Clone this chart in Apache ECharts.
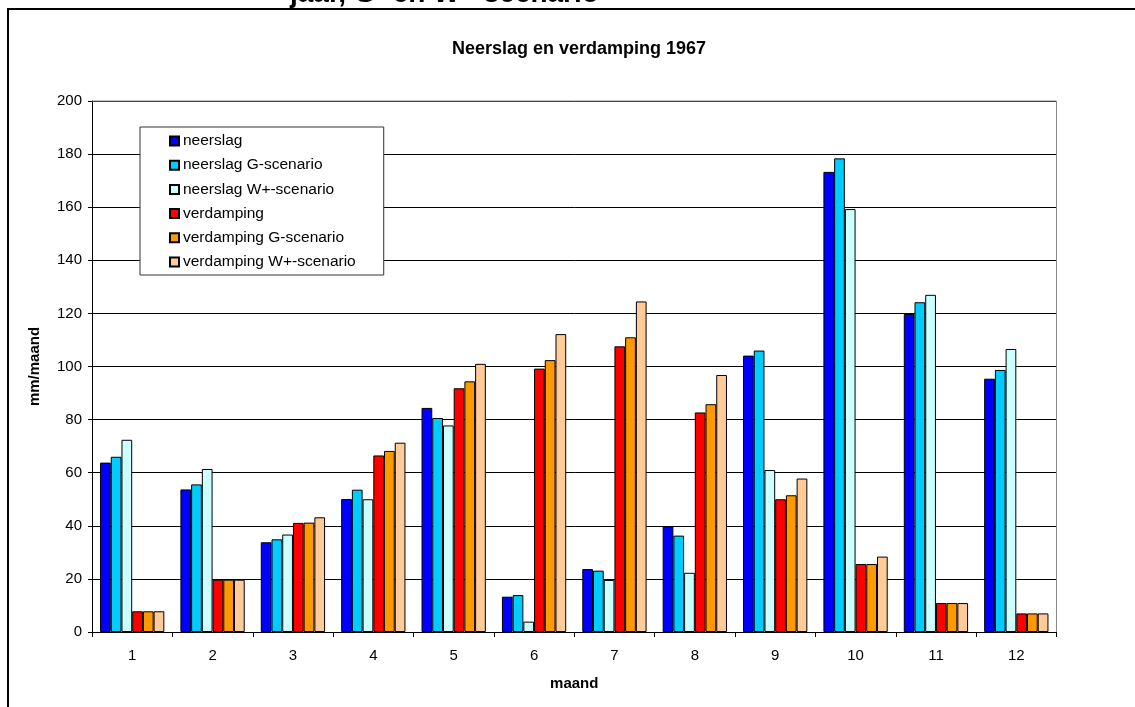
<!DOCTYPE html>
<html>
<head>
<meta charset="utf-8">
<script src="https://cdn.jsdelivr.net/npm/echarts@6/dist/echarts.min.js"></script>
<style>
html, body { margin: 0; padding: 0; background: #fff; }
#chart { width: 1135px; height: 707px; }
</style>
</head>
<body>
<div id="chart"></div>
<script>
var months = ['1', '2', '3', '4', '5', '6', '7', '8', '9', '10', '11', '12'];

var neerslag   = [63.8, 53.7, 33.8, 50.1, 84.4, 13.3, 23.7, 39.8, 104.1, 173.3, 119.8, 95.4];
var neerslagG  = [66.0, 55.6, 34.9, 53.6, 80.6, 13.9, 23.1, 36.3, 106.0, 178.4, 124.2, 98.7];
var neerslagW  = [72.4, 61.4, 36.7, 50.0, 77.8, 3.9, 19.6, 22.3, 61.0, 159.3, 127.0, 106.6];
var verdamping  = [7.8, 19.7, 41.1, 66.5, 91.8, 99.2, 107.6, 82.7, 50.0, 25.6, 10.9, 7.0];
var verdampingG = [7.8, 19.7, 41.2, 68.2, 94.4, 102.4, 111.0, 85.8, 51.5, 25.6, 10.9, 7.0];
var verdampingW = [7.8, 19.7, 43.2, 71.3, 101.0, 112.2, 124.5, 96.8, 57.8, 28.4, 10.9, 7.0];

var yTicks = [0, 20, 40, 60, 80, 100, 120, 140, 160, 180, 200];

var dom = document.getElementById('chart');
var myChart = echarts.init(dom);

function bar(name, data, color) {
	return {
		name: name,
		type: 'bar',
		data: data,
		barGap: '0%',
		barCategoryGap: '20%',
		itemStyle: { color: color, borderColor: '#000', borderWidth: 1 }
	};
}

var font = 'Liberation Sans, Arial, sans-serif';

var option = {
	animation: false,
	backgroundColor: '#fff',
	textStyle: { fontFamily: font },
	title: {
		text: 'Neerslag en verdamping 1967',
		left: 574,
		textAlign: 'center',
		top: 35,
		textStyle: { fontFamily: font, fontSize: 18, fontWeight: 'bold', color: '#000' }
	},
	graphic: [
		{
			// kop van de pagina, valt grotendeels buiten beeld
			type: 'text',
			left: 290,
			top: -20,
			style: { text: 'jaar, G- en W+ scenario', fontFamily: font, fontSize: 28, fontWeight: 'bold', fill: '#000' }
		},
		{
			type: 'polyline',
			shape: { points: [[8, 720], [8, 9], [1140, 9]] },
			style: { stroke: '#000', lineWidth: 2, fill: null }
		},
		{
			type: 'polyline',
			shape: { points: [[92, 101], [1056.5, 101], [1056.5, 632]] },
			style: { stroke: '#888', lineWidth: 1, fill: null },
			z: 50
		}
	],
	legend: {
		orient: 'vertical',
		left: 140,
		top: 127,
		padding: [6, 28, 5, 29],
		borderColor: '#333',
		borderWidth: 1,
		backgroundColor: '#fff',
		icon: 'rect',
		itemWidth: 9,
		itemHeight: 9,
		itemGap: 8.2,
		textStyle: { fontFamily: font, fontSize: 15.5, color: '#000', lineHeight: 16, padding: [0, 0, 0, -1] },
		z: 10
	},
	grid: { left: 92, right: 78.5, top: 101, bottom: 75 },
	xAxis: {
		type: 'category',
		data: months,
		name: 'maand',
		nameLocation: 'middle',
		nameGap: 44,
		nameTextStyle: { fontFamily: font, fontSize: 15, fontWeight: 'bold', color: '#000' },
		axisLine: { lineStyle: { color: '#000', width: 1 } },
		axisTick: { show: true, alignWithLabel: false, length: 5, lineStyle: { color: '#000' } },
		axisLabel: { fontFamily: font, fontSize: 15, color: '#000', margin: 16 }
	},
	yAxis: {
		type: 'value',
		min: yTicks[0],
		max: yTicks[yTicks.length - 1],
		interval: 20,
		name: 'mm/maand',
		nameLocation: 'middle',
		nameRotate: 90,
		nameGap: 50,
		nameTextStyle: { fontFamily: font, fontSize: 15, fontWeight: 'bold', color: '#000' },
		axisLine: { show: true, lineStyle: { color: '#000', width: 1 } },
		axisTick: { show: true, length: 4, lineStyle: { color: '#000' } },
		axisLabel: { fontFamily: font, fontSize: 15, color: '#000', margin: 10 },
		splitLine: { show: true, lineStyle: { color: '#000', width: 1 } }
	},
	series: [
		bar('neerslag', neerslag, '#0000FF'),
		bar('neerslag G-scenario', neerslagG, '#00CCFF'),
		bar('neerslag W+-scenario', neerslagW, '#CCFFFF'),
		bar('verdamping', verdamping, '#FF0000'),
		bar('verdamping G-scenario', verdampingG, '#FF9900'),
		bar('verdamping W+-scenario', verdampingW, '#FFCC99')
	]
};

if (option && typeof option === 'object') {
	myChart.setOption(option, true);
}
window.onresize = function () {
	myChart.resize();
};
</script>
</body>
</html>
